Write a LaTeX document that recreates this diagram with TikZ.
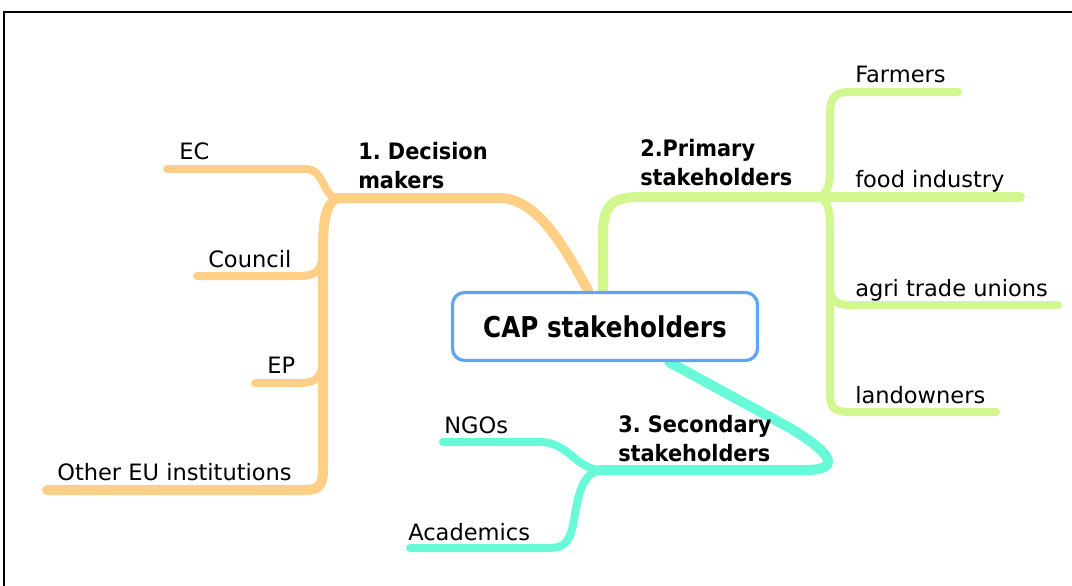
\documentclass[tikz,border=0pt]{standalone}
\usepackage{fontspec}
\setmainfont{DejaVu Sans}
\newfontfamily\topicfont{DejaVu Sans}[FakeStretch=0.92]
\newfontfamily\capfont{DejaVu Sans}[FakeStretch=0.86]
\frenchspacing
\usetikzlibrary{positioning,backgrounds}

\definecolor{dmorange}{RGB}{255,207,133}
\definecolor{psgreen}{RGB}{210,247,142}
\definecolor{ssteal}{RGB}{104,250,216}
\definecolor{capblue}{RGB}{92,166,246}

\begin{document}
\begin{tikzpicture}[x=0.75pt,y=0.75pt,yscale=-1,xscale=1,
    leaf/.style={anchor=base west,inner sep=0pt,font=\fontsize{16.9}{20}\selectfont},
    topic/.style={anchor=base west,inner sep=0pt,align=left,font=\fontsize{17}{21.5}\topicfont\bfseries},
    limb/.style={line width=7.5pt,line cap=round,line join=round},
    twig/.style={line width=6pt,line cap=round,line join=round}]
\useasboundingbox (0,0) rectangle (1072,586);
% frame
\draw [line width=1.5pt] (3.5,586) -- (3.5,11.5) -- (1072,11.5);

% central topic
\node [draw=capblue,line width=2.4pt,rounded corners=9pt,fill=white,minimum width=228.75pt,minimum height=51pt,inner sep=0pt,font=\fontsize{21.5}{24}\capfont\bfseries] (cap) at (605,326.5) {CAP stakeholders};

% Text Node
\node [topic] (dm) at (358,188) {1. Decision\\makers};
\node [leaf] (ec) at (179,159) {EC};
\node [leaf] (council) at (208,267) {Council};
\node [leaf] (ep) at (267,373) {EP};
\node [leaf] (othereu) at (57,480) {Other EU institutions};
% Text Node
\node [topic] (ps) at (640,185) {2.Primary\\stakeholders};
\node [leaf] (farmers) at (855,82) {Farmers};
\node [leaf] (food) at (855,187) {food industry};
\node [leaf] (agri) at (855,296) {agri trade unions};
\node [leaf] (land) at (855,403) {landowners};
% Text Node
\node [topic] (ss) at (618,461) {3. Secondary\\stakeholders};
\node [leaf] (ngos) at (444,433) {NGOs};
\node [leaf] (acad) at (408,540) {Academics};

% branch ends
\coordinate (dmjoin) at (337,198);
\coordinate (psjoin) at (820,197);
\coordinate (ssjoin) at (600,470);

\begin{scope}[on background layer]
% 1. decision makers
\draw [limb,dmorange] (cap.115) .. controls (570,258) and (540,198) .. (500,198) -- (dmjoin);
\draw [limb,dmorange] (dmjoin) .. controls (326,204) and (323,220) .. (323,250) -- (323,470) .. controls (323,486) and (318,490) .. (305,490) -- (47,490);
\draw [twig,dmorange] (167,169) -- (305,169) .. controls (325,169) and (322,196) .. (dmjoin);
\draw [twig,dmorange] (197,276) -- (300,276) .. controls (318,276) and (323,268) .. (323,250);
\draw [twig,dmorange] (255,383) -- (300,383) .. controls (318,383) and (323,375) .. (323,357);
% 2. primary stakeholders
\draw [limb,psgreen] (cap.93) -- (603,235) .. controls (603,205) and (612,197) .. (640,197) -- (psjoin);
\draw [limb,psgreen] (psjoin) -- (1020,197);
\draw [twig,psgreen] (psjoin) .. controls (829,192) and (830,182) .. (830,165) -- (830,115) .. controls (830,97) and (835,92) .. (850,92) -- (958,92);
\draw [twig,psgreen] (psjoin) .. controls (829,202) and (830,212) .. (830,230) -- (830,395) .. controls (830,408) and (835,412) .. (850,412) -- (996,412);
\draw [twig,psgreen] (830,285) .. controls (830,300) and (835,305) .. (850,305) -- (1058,305);
% 3. secondary stakeholders
\draw [limb,ssteal] (cap.-29) -- (790,428) .. controls (835,455) and (840,470) .. (805,470) -- (ssjoin);
\draw [twig,ssteal] (443,442) -- (540,442) .. controls (568,442) and (575,468) .. (ssjoin);
\draw [twig,ssteal] (ssjoin) .. controls (582,474) and (578,495) .. (574,520) .. controls (570,542) and (565,548) .. (548,548) -- (410,548);
\end{scope}
\end{tikzpicture}
\end{document}
